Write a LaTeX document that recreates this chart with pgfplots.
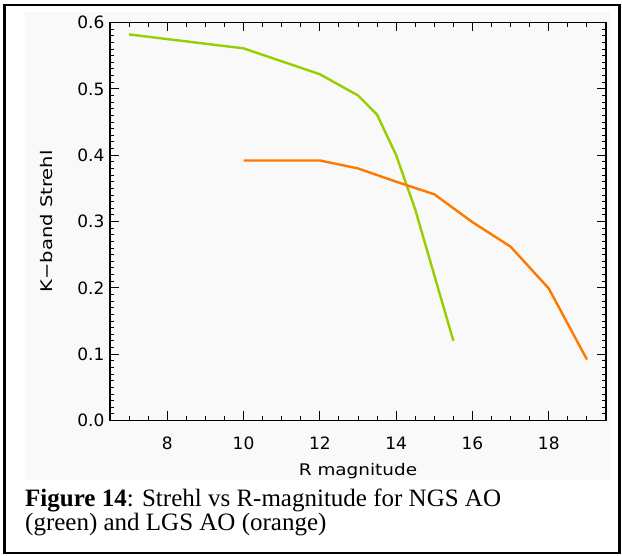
\documentclass[border=0pt]{standalone}
\usepackage{pgfplots}
\pgfplotsset{compat=1.18}
\usepackage{fontspec}
\setmainfont{Liberation Serif}
\newfontfamily\idl{DejaVu Sans}
\newfontfamily\idlw[FakeStretch=1.15]{DejaVu Sans}
\newfontfamily\idlww[FakeStretch=1.22]{DejaVu Sans}
\definecolor{ngsgreen}{RGB}{150,206,0}
\definecolor{lgsorange}{RGB}{255,120,0}
\definecolor{panelgray}{RGB}{249,249,249}

\begin{document}
\begin{tikzpicture}
% page and frame (1 px of the original = 1 pt here)
\useasboundingbox (0pt,0pt) rectangle (622pt,556pt);
\fill[panelgray] (25pt,76pt) rectangle (610pt,544pt);
\draw[line width=2.5pt] (4.5pt,3pt) rectangle (619.5pt,551pt);

\begin{axis}[
    scale only axis,
    width=496pt, height=398pt,
    at={(110pt,135.5pt)}, anchor=south west,
    xmin=6.5, xmax=19.5,
    ymin=0, ymax=0.6,
    xtick={8,10,...,18},
    minor xtick={6.5,7,...,19.5},
    ytick={0,0.1,...,0.6},
    minor y tick num=9,
    major tick length=9pt,
    minor tick length=4.5pt,
    tick style={black, line width=0.9pt},
    axis line style={black, line width=1.2pt},
    /pgf/number format/assume math mode=true,
    yticklabel style={xshift=-2pt, /pgf/number format/fixed,
        /pgf/number format/precision=1, /pgf/number format/zerofill},
    xticklabel style={anchor=base, yshift=-29pt},
    tick label style={font=\idl\fontsize{17}{18}\selectfont},
    xlabel={R magnitude},
    ylabel={K−band Strehl},
    xlabel style={font=\idlw\fontsize{16}{17}\selectfont,
        at={(axis description cs:0.5,-0.137)}, anchor=base},
    ylabel style={font=\idlww\fontsize{16}{17}\selectfont,
        at={(axis description cs:-0.128,0.5)}, anchor=center},
]
    % NGS AO
    \addplot[color=ngsgreen, line width=2.4pt, no markers] coordinates {
        (7,0.582) (10,0.561) (12,0.522) (13,0.490) (13.5,0.461)
        (14,0.400) (14.5,0.318) (15.5,0.120)};
    % LGS AO
    \addplot[color=lgsorange, line width=2.4pt, no markers] coordinates {
        (10,0.392) (12,0.392) (13,0.380) (14,0.360) (15,0.341)
        (16,0.299) (17,0.262) (18,0.199) (19,0.092)};
\end{axis}

\node[anchor=base west, inner sep=0pt, font=\fontsize{25}{26}\selectfont]
    at (25pt,49.5pt) {\textbf{Figure 14}: Strehl vs R-magnitude for NGS AO};
\node[anchor=base west, inner sep=0pt, font=\fontsize{25}{26}\selectfont]
    at (25pt,25pt) {(green) and LGS AO (orange)};
\end{tikzpicture}
\end{document}
